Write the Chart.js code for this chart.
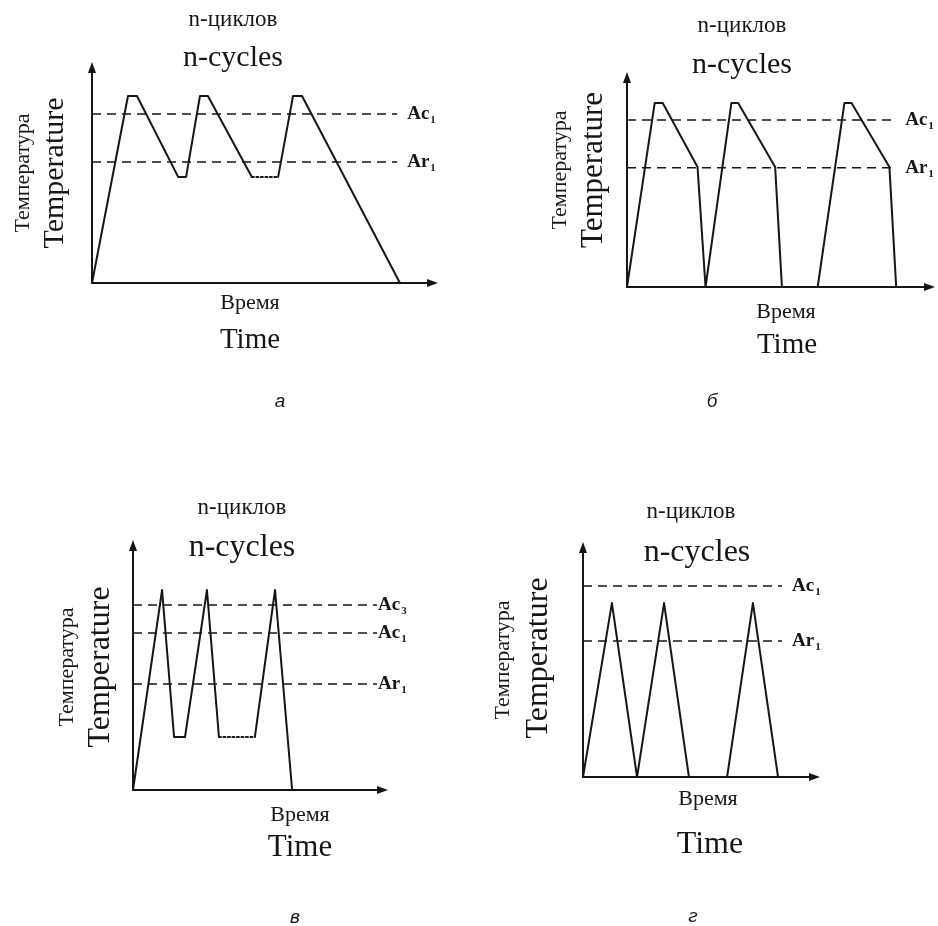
<!DOCTYPE html>
<html><head><meta charset="utf-8">
<script src="https://cdn.jsdelivr.net/npm/chart.js@4"></script>
<style>
html,body{margin:0;padding:0;background:#fff;width:938px;height:926px;overflow:hidden;}
canvas{position:absolute;}
</style></head><body>
<canvas id="ca" width="469" height="460" style="left:0;top:0"></canvas>
<canvas id="cb" width="469" height="460" style="left:469px;top:0"></canvas>
<canvas id="cv" width="469" height="466" style="left:0;top:460px"></canvas>
<canvas id="cg" width="469" height="466" style="left:469px;top:460px"></canvas>
<script>
// ---- Data (time and temperature in relative units, 0..100) ----
// Panel а
const timeA = [0, 10.4, 13.0, 24.9, 27.2, 31.2, 33.5, 46.2, 53.8, 58.1, 60.7, 89.0];
const tempA = [0, 84.6, 84.6, 48, 48, 84.6, 84.6, 48, 48, 84.6, 84.6, 0];
const dotA = 7;
const levelsA = [76.5, 54.8];
const levelNamesA = ['Ac', 'Ar'];
const levelSubsA = ['1', '1'];
const levelEndA = 88.2;

// Panel б
const timeB = [0, 9.0, 11.6, 22.9, 25.5, 33.9, 36.1, 48.1, 50.3, 61.9, 70.6, 72.9, 85.2, 87.4];
const tempB = [0, 85.6, 85.6, 55.8, 0, 85.6, 85.6, 55.8, 0, 0, 85.6, 85.6, 55.8, 0];
const dotB = 8;
const levelsB = [77.7, 55.5];
const levelNamesB = ['Ac', 'Ar'];
const levelSubsB = ['1', '1'];
const levelEndB = 87.4;

// Panel в
const timeV = [0, 11.4, 16.1, 20.4, 29.0, 33.7, 47.8, 55.7, 62.4];
const tempV = [0, 80, 21.2, 21.2, 80, 21.2, 21.2, 80, 0];
const dotV = 5;
const levelsV = [74, 62.8, 42.4];
const levelNamesV = ['Ac', 'Ac', 'Ar'];
const levelSubsV = ['3', '1', '1'];
const levelEndV = 95.7;

// Panel г
const timeG = [0, 12.2, 22.8, 34.2, 44.7, 60.8, 71.7, 82.3];
const tempG = [0, 74, 0, 74, 0, 0, 74, 0];
const dotG = 4;
const levelsG = [81.3, 57.9];
const levelNamesG = ['Ac', 'Ar'];
const levelSubsG = ['1', '1'];
const levelEndG = 84.0;

// ---- Texts ----
const titleRu = 'n-циклов';
const titleEn = 'n-cycles';
const yRu = 'Температура';
const yEn = 'Temperature';
const xRu = 'Время';
const xEn = 'Time';

const INK = '#161616';
const SERIF = '"Liberation Serif", "Times New Roman", serif';
const SANS = '"Liberation Sans", Arial, sans-serif';

function drawArrow(ctx, x1, y1, x2, y2) {
  const ang = Math.atan2(y2 - y1, x2 - x1);
  const L = 11, W = 4;
  ctx.save();
  ctx.strokeStyle = INK; ctx.fillStyle = INK; ctx.lineWidth = 2;
  ctx.beginPath();
  ctx.moveTo(x1, y1);
  ctx.lineTo(x2 - Math.cos(ang) * (L - 2), y2 - Math.sin(ang) * (L - 2));
  ctx.stroke();
  ctx.beginPath();
  ctx.moveTo(x2, y2);
  ctx.lineTo(x2 - L * Math.cos(ang) + W * Math.sin(ang), y2 - L * Math.sin(ang) - W * Math.cos(ang));
  ctx.lineTo(x2 - L * Math.cos(ang) - W * Math.sin(ang), y2 - L * Math.sin(ang) + W * Math.cos(ang));
  ctx.closePath();
  ctx.fill();
  ctx.restore();
}

function txt(ctx, s, x, y, font, rot) {
  ctx.save();
  ctx.fillStyle = INK;
  ctx.font = font;
  ctx.textAlign = 'center';
  ctx.textBaseline = 'middle';
  ctx.translate(x, y);
  if (rot) ctx.rotate(-Math.PI / 2);
  ctx.fillText(s, 0, 0);
  ctx.restore();
}

const panelPlugin = {
  id: 'panelDecor',
  beforeDatasetsDraw(chart) {
    const ctx = chart.ctx;
    const xs = chart.scales.x, ys = chart.scales.y;
    const x0 = xs.getPixelForValue(0), y0 = ys.getPixelForValue(0);
    drawArrow(ctx, x0, y0 + 1, x0, ys.getPixelForValue(100));
    drawArrow(ctx, x0 - 1, y0, xs.getPixelForValue(100), y0);
  },
  afterDraw(chart) {
    const ctx = chart.ctx;
    const p = chart.options.plugins.panelDecor;
    const ox = p.ox, oy = p.oy;
    const xs = chart.scales.x, ys = chart.scales.y;
    p.levels.forEach((lv, i) => {
      const x = xs.getPixelForValue(p.levelEnd) + p.labelGap;
      const y = ys.getPixelForValue(lv);
      ctx.save();
      ctx.fillStyle = INK;
      ctx.textBaseline = 'middle';
      ctx.textAlign = 'left';
      ctx.font = 'bold 19px ' + SERIF;
      ctx.fillText(p.names[i], x, y);
      const w = ctx.measureText(p.names[i]).width;
      ctx.font = 'bold 11px ' + SERIF;
      ctx.fillText(p.subs[i], x + w + 1, y + 6);
      ctx.restore();
    });
    const t = p.text;
    txt(ctx, titleRu, t.ru[0] - ox, t.ru[1] - oy, t.ruSize + 'px ' + SERIF);
    txt(ctx, titleEn, t.en[0] - ox, t.en[1] - oy, t.enSize + 'px ' + SERIF);
    txt(ctx, yRu, t.yru[0] - ox, t.yru[1] - oy, t.yruSize + 'px ' + SERIF, true);
    txt(ctx, yEn, t.yen[0] - ox, t.yen[1] - oy, t.yenSize + 'px ' + SERIF, true);
    txt(ctx, xRu, t.xru[0] - ox, t.xru[1] - oy, t.xruSize + 'px ' + SERIF);
    txt(ctx, xEn, t.xen[0] - ox, t.xen[1] - oy, t.xenSize + 'px ' + SERIF);
    txt(ctx, p.caption, t.cap[0] - ox, t.cap[1] - oy, 'italic 19px ' + SANS);
  }
};

function makePanel(id, time, temp, dotIdx, levels, names, subs, levelEnd, pad, ox, oy, labelGap, caption, text) {
  const curve = time.map((t, i) => ({ x: t, y: temp[i] }));
  const datasets = [{
    data: curve,
    borderColor: INK,
    borderWidth: 2,
    borderJoinStyle: 'round',
    borderCapStyle: 'round',
    pointRadius: 0,
    tension: 0,
    clip: false,
    segment: { borderDash: c => c.p0DataIndex === dotIdx ? [2, 2.5] : undefined }
  }];
  levels.forEach(lv => {
    datasets.push({
      data: [{ x: 0, y: lv }, { x: levelEnd, y: lv }],
      borderColor: INK,
      borderWidth: 1.5,
      borderDash: [9, 6],
      pointRadius: 0,
      clip: false
    });
  });
  new Chart(document.getElementById(id), {
    type: 'line',
    data: { datasets },
    options: {
      responsive: false,
      animation: false,
      events: [],
      layout: { padding: pad },
      scales: {
        x: { type: 'linear', min: 0, max: 100, display: false },
        y: { type: 'linear', min: 0, max: 100, display: false }
      },
      plugins: {
        legend: { display: false },
        tooltip: { enabled: false },
        panelDecor: { ox, oy, levels, names, subs, levelEnd, labelGap, caption, text }
      }
    },
    plugins: [panelPlugin]
  });
}

makePanel('ca', timeA, tempA, dotA, levelsA, levelNamesA, levelSubsA, levelEndA,
  { left: 92, right: 31, top: 62, bottom: 177 }, 0, 0, 10, 'а',
  { ru: [233, 20], ruSize: 23, en: [233, 58], enSize: 30,
    yru: [23, 173], yruSize: 22, yen: [55, 173], yenSize: 30,
    xru: [250, 303], xruSize: 22, xen: [250, 340], xenSize: 29, cap: [280, 402] });

makePanel('cb', timeB, tempB, dotB, levelsB, levelNamesB, levelSubsB, levelEndB,
  { left: 158, right: 3, top: 72, bottom: 173 }, 469, 0, 9, 'б',
  { ru: [742, 26], ruSize: 23, en: [742, 65], enSize: 30,
    yru: [560, 170], yruSize: 22, yen: [594, 170], yenSize: 31,
    xru: [786, 312], xruSize: 22, xen: [787, 345], xenSize: 29, cap: [712, 402] });

makePanel('cv', timeV, tempV, dotV, levelsV, levelNamesV, levelSubsV, levelEndV,
  { left: 133, right: 81, top: 80, bottom: 136 }, 0, 460, 1, 'в',
  { ru: [242, 508], ruSize: 23, en: [242, 548], enSize: 32,
    yru: [67, 667], yruSize: 22, yen: [101, 667], yenSize: 32,
    xru: [300, 815], xruSize: 22, xen: [300, 848], xenSize: 31, cap: [295, 918] });

makePanel('cg', timeG, tempG, dotG, levelsG, levelNamesG, levelSubsG, levelEndG,
  { left: 114, right: 118, top: 82, bottom: 149 }, 469, 460, 10, 'г',
  { ru: [691, 512], ruSize: 23, en: [697, 553], enSize: 32,
    yru: [503, 660], yruSize: 22, yen: [539, 658], yenSize: 32,
    xru: [708, 799], xruSize: 22, xen: [710, 845], xenSize: 32, cap: [693, 917] });
</script>
</body></html>
